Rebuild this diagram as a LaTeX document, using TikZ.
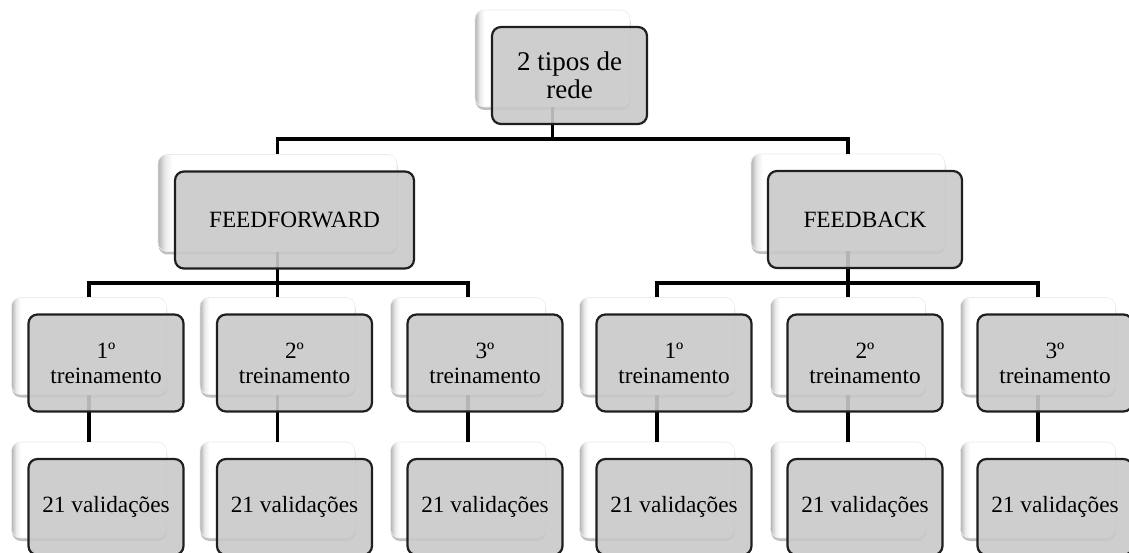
\documentclass[tikz,border=0pt]{standalone}
\usepackage{fontspec}
\setmainfont{Liberation Serif}
\usetikzlibrary{shadows,calc}

% white card with a soft grey left rim
\pgfdeclarehorizontalshading{cardedge}{100bp}{%
  color(0bp)=(black!30); color(25bp)=(black!30); color(26.5bp)=(black!8);
  color(28bp)=(white); color(100bp)=(white)}

\tikzset{
  backcard/.style={rectangle, rounded corners=9pt, shading=cardedge,
    draw=black!8, line width=0.6pt, inner sep=0pt,
    minimum width=#1, minimum height=97pt,
    drop shadow={shadow xshift=0.5pt, shadow yshift=-3pt, opacity=0.25, fill=black}},
  backcard/.default=155pt,
  frontcard/.style={rectangle, rounded corners=9pt, fill=black!21,
    fill opacity=0.9, text opacity=1, draw=black!88, line width=2.2pt,
    inner sep=0pt, minimum width=#1, minimum height=97pt, align=center,
    font=\fontsize{23.3}{25}\selectfont},
  frontcard/.default=155pt,
  link/.style={line width=3.3pt, black},
}

\begin{document}
\begin{tikzpicture}[x=1pt, y=-1pt]
  \useasboundingbox (0,0) rectangle (1129,553);

  % back cards
  \node[backcard] (t) at (552.5,58.5) {};
  \node[backcard=239pt] (ff) at (277.5,203) {};
  \node[backcard=194pt] (fb) at (848,202.5) {};
  \foreach \i/\x in {1/89,2/277.5,3/468,4/657,5/848,6/1038}{
    \node[backcard] (c\i) at (\x,346) {};
    \node[backcard, minimum height=96pt] (v\i) at (\x,490) {};
  }

  % connectors
  \coordinate (barA) at (0,139);
  \coordinate (barB) at (0,283);
  \draw[link] (t.south) -- (t.south |- barA);
  \draw[link] (ff.north) |- (t.south |- barA) -| (fb.north);
  \draw[link] (ff.south) -- (c2.north);
  \draw[link] (c1.north) |- (ff.south |- barB) -| (c3.north);
  \draw[link] (fb.south) -- (c5.north);
  \draw[link] (c4.north) |- (fb.south |- barB) -| (c6.north);
  \foreach \i in {1,...,6}{
    \draw[link] (c\i.south) -- (v\i.north);
  }

  % front cards with the labels
  \node[frontcard, font=\fontsize{27}{28}\selectfont] (tf) at ($(t)+(17,17)$) {2 tipos de\\rede};
  \node[frontcard=239pt] (fff) at ($(ff)+(17,17)$) {FEEDFORWARD};
  \node[frontcard=194pt] (fbf) at ($(fb)+(17,17)$) {FEEDBACK};
  \foreach \i/\n in {1/1,2/2,3/3,4/1,5/2,6/3}{
    \node[frontcard] (c\i f) at ($(c\i)+(17,17)$) {\n º\\treinamento};
    \node[frontcard, minimum height=96pt] (v\i f) at ($(v\i)+(17,17)$) {21 validações};
  }
\end{tikzpicture}
\end{document}
